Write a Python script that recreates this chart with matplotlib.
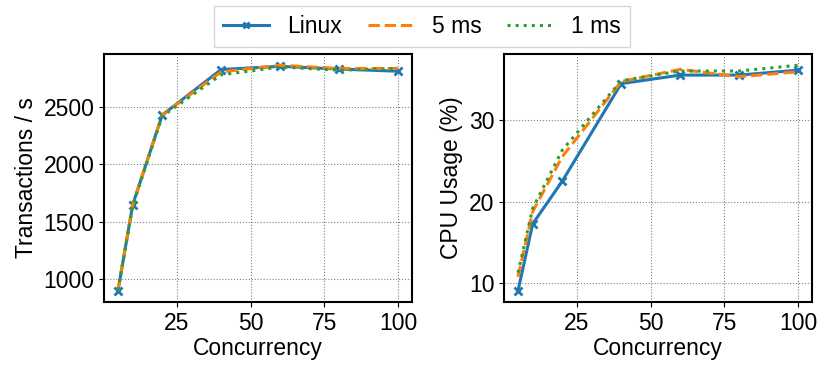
import numpy as np
import matplotlib.pyplot as plt

plt.rcParams['font.family'] = ['Liberation Sans', 'DejaVu Sans']
plt.rcParams['font.size'] = 16.5

concurrency = [5, 10, 20, 40, 60, 80, 100]

tps_linux = [900, 1650, 2430, 2826, 2854, 2830, 2811]
tps_5ms = [905, 1650, 2430, 2805, 2863, 2835, 2835]
tps_1ms = [905, 1640, 2420, 2780, 2848, 2820, 2836]

cpu_linux = [9.1, 17.3, 22.5, 34.45, 35.5, 35.5, 36.1]
cpu_5ms = [10.8, 18.8, 25.5, 34.7, 36.2, 35.3, 35.9]
cpu_1ms = [11.3, 19.2, 26.3, 34.8, 36.0, 36.0, 36.7]

fig = plt.figure(figsize=(8.31, 3.77), dpi=100)
ax1 = fig.add_axes([104/831, 1-302/377, 308/831, 248/377])
ax2 = fig.add_axes([504/831, 1-302/377, 308/831, 248/377])

def draw(ax, a, b, c):
    ax.plot(concurrency, a, '-', marker='x', color='tab:blue', lw=2.2, ms=6, mew=2, label='Linux')
    ax.plot(concurrency, b, '--', color='tab:orange', lw=2.2, label='5 ms')
    ax.plot(concurrency, c, ':', color='tab:green', lw=2.2, label='1 ms')
    ax.grid(True, linestyle=':', color='gray')
    ax.set_xlabel('Concurrency', labelpad=2)
    ax.set_xticks([25, 50, 75, 100])
    for s in ax.spines.values():
        s.set_linewidth(1.5)

draw(ax1, tps_linux, tps_5ms, tps_1ms)
ax1.set_ylabel('Transactions / s')
ax1.set_yticks([1000, 1500, 2000, 2500])

draw(ax2, cpu_linux, cpu_5ms, cpu_1ms)
ax2.set_ylabel('CPU Usage (%)')
ax2.set_yticks([10, 20, 30])

handles, labels = ax1.get_legend_handles_labels()
fig.legend(handles, labels, loc='upper center', ncol=3, bbox_to_anchor=(422/831, 1.0),
           fancybox=False, handlelength=2, columnspacing=1.1, borderaxespad=0.25,
           markerscale=0.8)

fig.savefig('out.png', dpi=100)
